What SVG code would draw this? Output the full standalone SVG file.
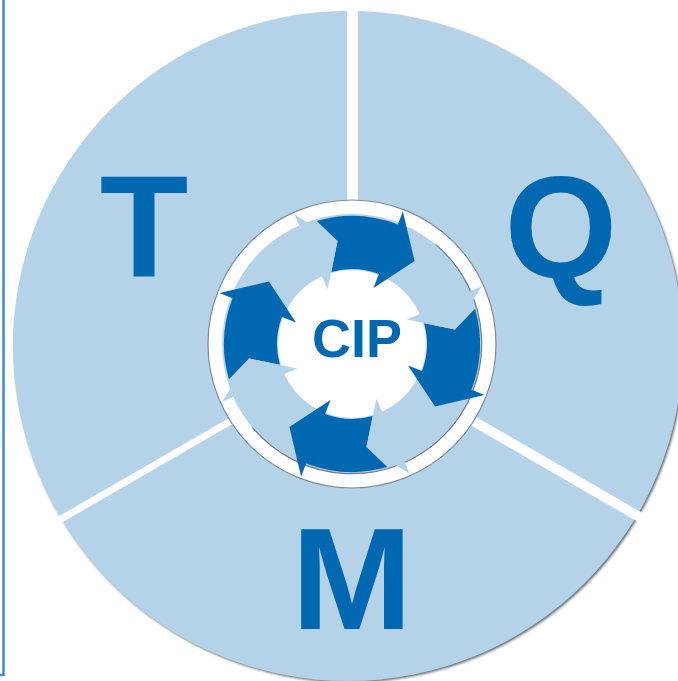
<svg xmlns="http://www.w3.org/2000/svg" xmlns:xlink="http://www.w3.org/1999/xlink" width="678" height="681" viewBox="0 0 678 681">
  <style>
    .seg { fill: #b4d3e8; }
    .big { font-family: "Liberation Sans", Arial, sans-serif; font-weight: bold; font-size: 145px; fill: #0067b1; text-anchor: middle; }
    .cip { font-family: "Liberation Sans", Arial, sans-serif; font-weight: bold; font-size: 54px; fill: #0067b1; text-anchor: middle; }
    .dark { fill: #0067b1; }
    .light { fill: #b4d3e8; }
  </style>
  <defs>
    <filter id="sh" x="-5%" y="-5%" width="110%" height="110%">
      <feDropShadow dx="1.5" dy="1.5" stdDeviation="0.8" flood-color="#55616b" flood-opacity="0.9"/>
    </filter>
    <clipPath id="cT"><polygon points="-10,-10 347,-10 347,349.85 -10,555.97"/></clipPath>
    <clipPath id="cQ"><polygon points="358,-10 700,-10 700,546.17 358,348.69"/></clipPath>
    <clipPath id="cM"><polygon points="350.5,355.9 700,557.71 700,700 -10,700 -10,564.06"/></clipPath>
    <path id="darr" d="M128,0 L102.99,14.47 L75,0 A75,75 0 0 1 59.90,45.14 L47.92,36.11 L62.59,83.06 L113.41,85.46 L102.22,77.03 A128,128 0 0 0 128,0 Z"/>
    <path id="lhead" d="M47.92,36.11 L113.41,85.46 L62.59,83.06 Z"/>
  </defs>

  <path d="M3.5,0 V675 H0" fill="none" stroke="#3d8ad0" stroke-width="2.5"/>

  <g id="seg-T">
    <circle class="seg" cx="348" cy="346" r="335" clip-path="url(#cT)" filter="url(#sh)"/>
    <text class="big" x="144" y="277">T</text>
  </g>
  <g id="seg-Q">
    <circle class="seg" cx="348" cy="346" r="335" clip-path="url(#cQ)" filter="url(#sh)"/>
    <text class="big" x="561" y="277">Q</text>
  </g>
  <g id="seg-M">
    <circle class="seg" cx="348" cy="346" r="335" clip-path="url(#cM)" filter="url(#sh)"/>
    <text class="big" x="352" y="629">M</text>
  </g>

  <g id="cip-hub">
    <circle cx="352" cy="344" r="144" fill="#ffffff" stroke="#7f8d98" stroke-width="1.2"/>
    <circle cx="352" cy="344" r="130" fill="#b4d3e8"/>
    <path d="M435.6,244.4 A130,130 0 1 1 252.4,427.6" fill="none" stroke="#6f7d88" stroke-width="1.2"/>
    <circle cx="352" cy="344" r="74" fill="#ffffff"/>
    <g id="arrows">
      <use xlink:href="#darr" class="dark" transform="translate(352,344) rotate(-106)"/>
      <use xlink:href="#darr" class="dark" transform="translate(352,344) rotate(-16)"/>
      <use xlink:href="#darr" class="dark" transform="translate(352,344) rotate(74)"/>
      <use xlink:href="#darr" class="dark" transform="translate(352,344) rotate(164)"/>
      <use xlink:href="#lhead" class="light" transform="translate(352,344) rotate(-151)"/>
      <use xlink:href="#lhead" class="light" transform="translate(352,344) rotate(-61)"/>
      <use xlink:href="#lhead" class="light" transform="translate(352,344) rotate(29)"/>
      <use xlink:href="#lhead" class="light" transform="translate(352,344) rotate(119)"/>
    </g>
    <text class="cip" x="357" y="357">CIP</text>
  </g>
</svg>
